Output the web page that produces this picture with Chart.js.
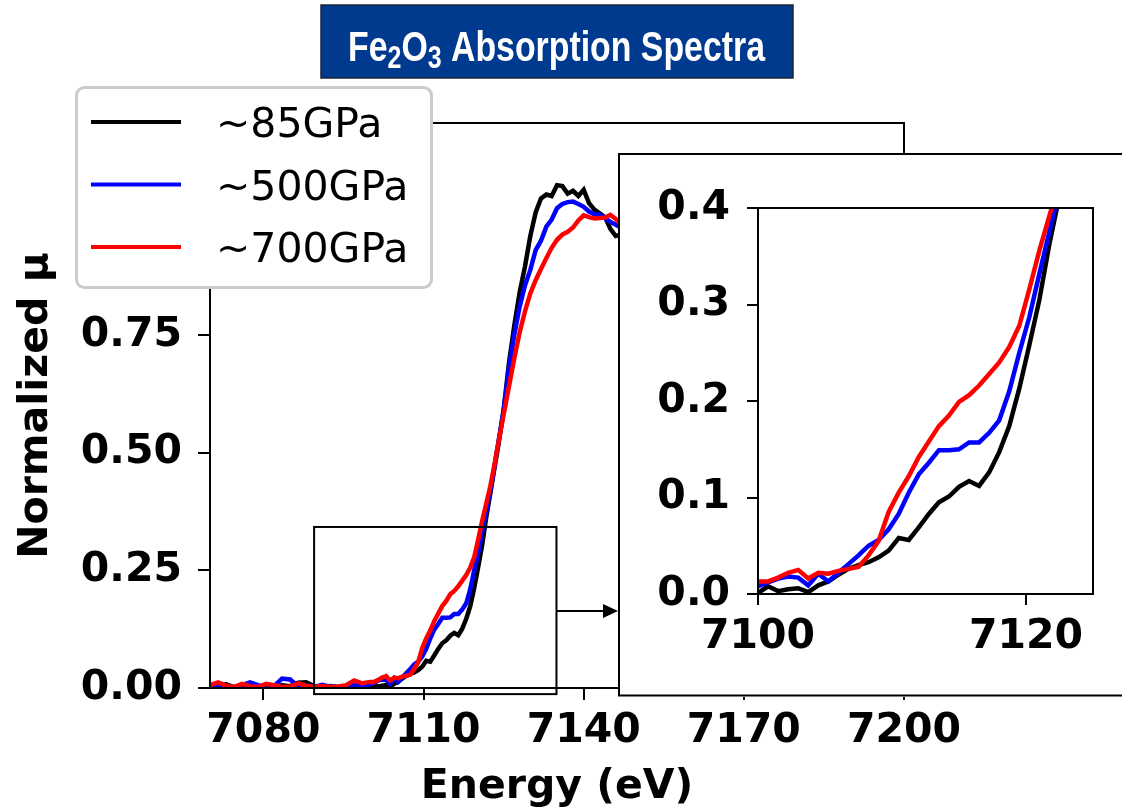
<!DOCTYPE html>
<html>
<head>
<meta charset="utf-8">
<script src="https://cdn.jsdelivr.net/npm/chart.js@4.4.0/dist/chart.umd.min.js"></script>
<style>
  html, body { margin: 0; padding: 0; background: #fff; }
  #wrap { position: relative; width: 1122px; height: 812px; overflow: hidden; }
  #main { position: absolute; left: 0; top: 0; }
  #inset { position: absolute; left: 618px; top: 153px; }
</style>
</head>
<body>
<div id="wrap">
  <canvas id="main" width="1122" height="812"></canvas>
  <canvas id="inset" width="504" height="544"></canvas>
</div>
<script>
// ── data (energy in eV, normalized absorption) ──
const energy = [
  7070, 7071.5, 7073, 7074.5, 7076, 7077.5, 7079, 7080.5, 7082, 7083.5,
  7085, 7086.5, 7088, 7089.5, 7091, 7092.5, 7094, 7095.5, 7097, 7098.5,
  7100, 7100.75, 7101.5, 7102.25, 7103, 7103.75, 7104.5, 7105.25, 7106, 7106.75,
  7107.5, 7108.25, 7109, 7109.75, 7110.5, 7111.25, 7112, 7112.75, 7113.5, 7114.25,
  7115, 7115.75, 7116.5, 7117.25, 7118, 7118.75, 7119.5, 7120.25, 7121, 7121.75,
  7122.5, 7123.25, 7124,
  7125, 7126, 7127, 7128, 7129, 7130, 7131, 7132, 7133, 7134,
  7135, 7136, 7137, 7138, 7139, 7140, 7141, 7142, 7143, 7144,
  7145, 7146, 7147, 7148, 7149, 7150
];
const mu85 = [
  0.003, 0.005, 0.008, 0.002, 0.004, 0.003, 0.001, 0.004, 0.003, 0.006,
  0.004, 0.011, 0.012, 0.004, 0.002, 0.004, 0.002, 0.001, 0.002, 0.004,
  0.001, 0.008, 0.003, 0.005, 0.006, 0.002, 0.009, 0.013, 0.020, 0.026,
  0.030, 0.033, 0.038, 0.045, 0.058, 0.056, 0.069, 0.083, 0.095, 0.101,
  0.111, 0.117, 0.112, 0.126, 0.147, 0.174, 0.213, 0.258, 0.305, 0.363,
  0.413, 0.465, 0.515,
  0.59, 0.69, 0.77, 0.84, 0.895, 0.96, 1.01, 1.04, 1.048, 1.045,
  1.068, 1.066, 1.05, 1.056, 1.045, 1.058, 1.03, 1.016, 1.008, 1.0,
  0.975, 0.96, 0.963, 0.955, 0.952, 0.95
];
const mu500 = [
  0.002, 0.004, 0.002, 0.001, 0.006, 0.012, 0.006, 0.002, 0.004, 0.020,
  0.018, 0.004, 0.006, 0.002, 0.007, 0.003, 0.001, 0.004, 0.006, 0.005,
  0.008, 0.012, 0.016, 0.018, 0.017, 0.009, 0.021, 0.013, 0.022, 0.031,
  0.040, 0.050, 0.056, 0.067, 0.083, 0.105, 0.124, 0.136, 0.149, 0.149,
  0.150, 0.157, 0.157, 0.167, 0.180, 0.210, 0.250, 0.287, 0.332, 0.376,
  0.418, 0.468, 0.52,
  0.59, 0.68, 0.75, 0.81, 0.855, 0.888, 0.93, 0.95, 0.98, 0.995,
  1.019, 1.028, 1.032, 1.033, 1.028, 1.022, 1.012, 1.006, 1.005, 0.998,
  0.99, 0.984, 0.978, 0.975, 0.97, 0.968
];
const mu700 = [
  0.006, 0.012, 0.005, 0.002, 0.009, 0.004, 0.002, 0.009, 0.006, 0.002,
  0.003, 0.010, 0.005, 0.002, 0.004, 0.002, 0.003, 0.006, 0.016, 0.010,
  0.013, 0.013, 0.017, 0.022, 0.025, 0.016, 0.022, 0.021, 0.024, 0.026,
  0.028, 0.040, 0.055, 0.085, 0.105, 0.122, 0.142, 0.158, 0.174, 0.185,
  0.199, 0.206, 0.216, 0.228, 0.240, 0.256, 0.278, 0.316, 0.356, 0.392,
  0.428, 0.472, 0.52,
  0.58, 0.64, 0.70, 0.755, 0.80, 0.838, 0.866, 0.89, 0.913, 0.935,
  0.952, 0.963, 0.969, 0.978, 0.993, 1.004, 1.0, 0.997, 0.998, 0.999,
  1.005, 0.996, 0.985, 0.982, 0.985, 0.99
];
const seriesLabels = ['~85GPa', '~500GPa', '~700GPa'];
const seriesColors = ['#000000', '#0000ff', '#ff0000'];

const mainXTicks = { min: 7070, max: 7200, step: 30 };
const mainYTicks = { min: 0, max: 1.2, step: 0.25 };
const insetXTicks = { min: 7100, max: 7125, step: 20 };
const insetYTicks = { min: 0, max: 0.4, step: 0.1 };
// zoom box drawn on the main axes: [x0, x1, y0, y1] in data units
const zoomBox = [7089.5, 7134.9, -0.013, 0.342];

const titleParts = [['Fe', 0], ['2', 1], ['O', 0], ['3', 1], [' Absorption Spectra', 0]];

const INSET_LEFT = 618;
const boldFont = { family: 'DejaVu Sans', size: 41, weight: 'bold' };

function buildDatasets(width) {
  return [mu85, mu500, mu700].map((vals, i) => ({
    label: seriesLabels[i],
    data: energy.map((e, k) => ({ x: e, y: vals[k] })),
    borderColor: seriesColors[i],
    backgroundColor: seriesColors[i],
    borderWidth: width,
    pointRadius: 0,
    tension: 0,
    fill: false,
    order: 3 - i
  }));
}

// ── main axes decorations: frame, zoom box, arrow, legend, title ──
const mainDecor = {
  id: 'mainDecor',
  afterDatasetsDraw(chart) {
    const { ctx, chartArea: a, scales: { x, y } } = chart;
    ctx.save();
    ctx.strokeStyle = '#000';
    ctx.fillStyle = '#000';
    ctx.lineWidth = 2;
    ctx.strokeRect(a.left, a.top, a.right - a.left, a.bottom - a.top);

    const bx0 = x.getPixelForValue(zoomBox[0]);
    const bx1 = x.getPixelForValue(zoomBox[1]);
    const by0 = y.getPixelForValue(zoomBox[2]);
    const by1 = y.getPixelForValue(zoomBox[3]);
    ctx.strokeRect(bx0, by1, bx1 - bx0, by0 - by1);

    const ay = Math.round((by0 + by1) / 2);
    ctx.beginPath();
    ctx.moveTo(bx1, ay);
    ctx.lineTo(INSET_LEFT - 14, ay);
    ctx.stroke();
    ctx.beginPath();
    ctx.moveTo(INSET_LEFT, ay);
    ctx.lineTo(INSET_LEFT - 15, ay - 7);
    ctx.lineTo(INSET_LEFT - 15, ay + 7);
    ctx.closePath();
    ctx.fill();
    ctx.restore();
  },
  afterDraw(chart) {
    const ctx = chart.ctx;
    ctx.save();

    // legend
    const lx = 76.5, ly = 87.5, lw = 355, lh = 200, r = 8;
    ctx.beginPath();
    ctx.moveTo(lx + r, ly);
    ctx.arcTo(lx + lw, ly, lx + lw, ly + lh, r);
    ctx.arcTo(lx + lw, ly + lh, lx, ly + lh, r);
    ctx.arcTo(lx, ly + lh, lx, ly, r);
    ctx.arcTo(lx, ly, lx + lw, ly, r);
    ctx.closePath();
    ctx.fillStyle = '#fff';
    ctx.fill();
    ctx.strokeStyle = '#cccccc';
    ctx.lineWidth = 3;
    ctx.stroke();

    ctx.font = 'normal 41px "DejaVu Sans"';
    ctx.textBaseline = 'alphabetic';
    ctx.textAlign = 'left';
    chart.data.datasets.forEach((ds, i) => {
      const yy = 122 + i * 62.5;
      ctx.strokeStyle = ds.borderColor;
      ctx.lineWidth = 4;
      ctx.beginPath();
      ctx.moveTo(91, yy);
      ctx.lineTo(181, yy);
      ctx.stroke();
      ctx.fillStyle = '#000';
      ctx.fillText(ds.label, 216, yy + 15);
    });

    // title box
    ctx.fillStyle = '#003a8f';
    ctx.fillRect(321, 5, 472, 73);
    ctx.strokeStyle = '#1c2536';
    ctx.lineWidth = 1.5;
    ctx.strokeRect(321, 5, 472, 73);

    const bigFont = 'bold 42px "Liberation Sans", Arial, sans-serif';
    const subFont = 'bold 31px "Liberation Sans", Arial, sans-serif';
    let total = 0;
    titleParts.forEach(([t, sub]) => {
      ctx.font = sub ? subFont : bigFont;
      total += ctx.measureText(t).width;
    });
    const sx = 417 / total;
    ctx.translate(348, 61);
    ctx.scale(sx, 1);
    ctx.fillStyle = '#fff';
    let cx = 0;
    titleParts.forEach(([t, sub]) => {
      ctx.font = sub ? subFont : bigFont;
      ctx.fillText(t, cx, sub ? 7 : 0);
      cx += ctx.measureText(t).width;
    });
    ctx.restore();
  }
};

new Chart(document.getElementById('main'), {
  type: 'line',
  data: { datasets: buildDatasets(4.5) },
  options: {
    responsive: false,
    animation: false,
    layout: { padding: { left: 0, top: 123, right: 218, bottom: 0 } },
    plugins: { legend: { display: false }, tooltip: { enabled: false } },
    scales: {
      x: {
        type: 'linear',
        min: mainXTicks.min,
        max: mainXTicks.max,
        ticks: {
          stepSize: mainXTicks.step,
          includeBounds: false,
          autoSkip: false,
          maxRotation: 0,
          padding: 7,
          color: '#000',
          font: boldFont,
          callback: v => String(v)
        },
        grid: { drawOnChartArea: false, drawTicks: true, tickLength: 12, color: '#000', lineWidth: 2 },
        border: { display: false },
        title: { display: true, text: 'Energy (eV)', color: '#000', font: boldFont, padding: { top: 0, bottom: 0 } },
        afterFit: s => { s.height = 124; }
      },
      y: {
        min: mainYTicks.min,
        max: mainYTicks.max,
        ticks: {
          stepSize: mainYTicks.step,
          includeBounds: false,
          padding: 16,
          color: '#000',
          font: boldFont,
          callback: v => v.toFixed(2)
        },
        grid: { drawOnChartArea: false, drawTicks: true, tickLength: 12, color: '#000', lineWidth: 2 },
        border: { display: false },
        title: { display: true, text: 'Normalized μ', color: '#000', font: boldFont, padding: { top: 12, bottom: 0 } },
        afterFit: s => { s.width = 210; }
      }
    }
  },
  plugins: [mainDecor]
});

// ── inset: zoom of the pre-edge ──
const insetDecor = {
  id: 'insetDecor',
  beforeDraw(chart) {
    const { ctx, width, height } = chart;
    ctx.save();
    ctx.fillStyle = '#fff';
    ctx.fillRect(0, 0, width, height);
    ctx.strokeStyle = '#000';
    ctx.lineWidth = 2;
    ctx.beginPath();
    ctx.moveTo(width + 5, 1);
    ctx.lineTo(1, 1);
    ctx.lineTo(1, height - 1.5);
    ctx.lineTo(width + 5, height - 1.5);
    ctx.stroke();
    ctx.restore();
  },
  afterDatasetsDraw(chart) {
    const { ctx, chartArea: a } = chart;
    ctx.save();
    ctx.strokeStyle = '#000';
    ctx.lineWidth = 2;
    ctx.strokeRect(a.left, a.top, a.right - a.left, a.bottom - a.top);
    ctx.restore();
  }
};

new Chart(document.getElementById('inset'), {
  type: 'line',
  data: { datasets: buildDatasets(4.5) },
  options: {
    responsive: false,
    animation: false,
    layout: { padding: { left: 0, top: 55, right: 29, bottom: 0 } },
    plugins: { legend: { display: false }, tooltip: { enabled: false } },
    scales: {
      x: {
        type: 'linear',
        min: insetXTicks.min,
        max: insetXTicks.max,
        ticks: {
          stepSize: insetXTicks.step,
          includeBounds: false,
          autoSkip: false,
          maxRotation: 0,
          padding: 8,
          color: '#000',
          font: boldFont,
          callback: v => String(v)
        },
        grid: { drawOnChartArea: false, drawTicks: true, tickLength: 11, color: '#000', lineWidth: 2 },
        border: { display: false },
        afterFit: s => { s.height = 103; }
      },
      y: {
        min: insetYTicks.min,
        max: insetYTicks.max,
        ticks: {
          stepSize: insetYTicks.step,
          includeBounds: false,
          padding: 17,
          color: '#000',
          font: boldFont,
          callback: v => v.toFixed(1)
        },
        grid: { drawOnChartArea: false, drawTicks: true, tickLength: 11, color: '#000', lineWidth: 2 },
        border: { display: false },
        afterFit: s => { s.width = 140; }
      }
    }
  },
  plugins: [insetDecor]
});
</script>
</body>
</html>
